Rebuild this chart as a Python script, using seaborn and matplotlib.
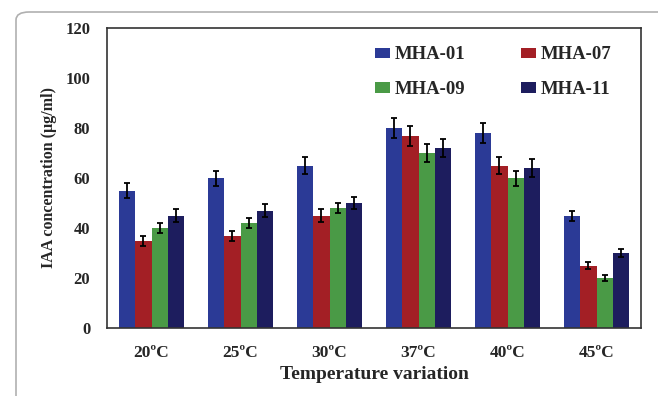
import numpy as np
import pandas as pd
import matplotlib
matplotlib.use("Agg")
import matplotlib.pyplot as plt
import seaborn as sns
from matplotlib.patches import FancyBboxPatch, Patch

temps = ["20\u00baC", "25\u00baC", "30\u00baC", "37\u00baC", "40\u00baC", "45\u00baC"]
strains = ["MHA-01", "MHA-07", "MHA-09", "MHA-11"]
mha01 = [55, 60, 65, 80, 78, 45]
mha07 = [35, 37, 45, 77, 65, 25]
mha09 = [40, 42, 48, 70, 60, 20]
mha11 = [45, 47, 50, 72, 64, 30]
err01 = [3, 3, 3.5, 4, 4, 2]
err07 = [2, 2, 2.5, 4, 3.5, 1.5]
err09 = [2, 2, 2, 3.5, 3, 1.2]
err11 = [2.5, 2.5, 2.5, 3.5, 3.5, 1.7]
colors = ["#2B3A96", "#A31F25", "#4A9A46", "#1D1D5E"]

vals = [mha01, mha07, mha09, mha11]
errs = [err01, err07, err09, err11]
df = pd.DataFrame({
    "temp": np.repeat([temps], 4, axis=0).ravel(),
    "strain": np.repeat(strains, len(temps)),
    "value": np.concatenate(vals),
    "err": np.concatenate(errs),
})

sns.set_style("white")
plt.rcParams["font.family"] = ["Liberation Serif", "DejaVu Serif"]
plt.rcParams["font.weight"] = "bold"

fig = plt.figure(figsize=(6.58, 3.96), dpi=100)
ax = fig.add_axes([107/658, 1-328/396, (641-107)/658, 300/396])

# outer rounded frame (top-left visible, rest runs off the canvas)
frame = FancyBboxPatch((16/658, -0.5), 700/658, 0.5 + 1 - 12/396,
                       boxstyle="round,pad=0,rounding_size=0.02",
                       transform=fig.transFigure, fill=False,
                       edgecolor="#b0b0b0", linewidth=1.2, zorder=0)
fig.patches.append(frame)

sns.barplot(data=df, x="temp", y="value", hue="strain", order=temps,
            hue_order=strains, palette=colors, errorbar=None, width=0.72,
            saturation=1, ax=ax, legend=False, linewidth=0)

# error bars positioned from the drawn bars
for i, s in enumerate(strains):
    cont = ax.containers[i]
    xs = [p.get_x() + p.get_width()/2 for p in cont.patches]
    ys = [p.get_height() for p in cont.patches]
    ax.errorbar(xs, ys, yerr=errs[i], fmt="none", ecolor="black",
                elinewidth=1.3, capsize=2.5, capthick=1.3, zorder=5)

ax.set_ylim(0, 120)
ax.set_xlim(-0.5, 5.5)
ax.set_yticks(range(0, 121, 20))
ax.set_xticks(np.arange(-0.5, 6, 1), minor=False)
ax.set_xticklabels([])
ax.set_xticks(np.arange(6), minor=True)
ax.set_xticklabels(temps, minor=True)
ax.tick_params(axis="x", which="minor", length=0, pad=12, labelsize=12.5)
ax.tick_params(axis="x", which="major", length=5, width=1, direction="out", color="#333333")
ax.tick_params(axis="y", length=5, width=1, direction="out", color="#333333", labelsize=12, pad=7)
for lab in ax.get_yticklabels() + ax.get_xticklabels(minor=True):
    lab.set_fontweight("bold")

for sp in ax.spines.values():
    sp.set_visible(True)
    sp.set_color("#333333")
    sp.set_linewidth(1.2)

ax.set_xlabel("Temperature variation", fontsize=14, fontweight="bold", labelpad=4)
ax.set_ylabel("IAA concentration (\u00b5g/ml)", fontsize=11.5, fontweight="bold", labelpad=6)

handles = [Patch(facecolor=c, edgecolor="none") for c in colors]
order = [0, 2, 1, 3]
leg = ax.legend([handles[k] for k in order], [strains[k] for k in order],
                ncol=2, frameon=False,
                loc="upper left", bbox_to_anchor=(0.47, 0.995),
                prop={"family": "Liberation Serif", "weight": "bold", "size": 13.5},
                handlelength=0.8, handleheight=0.45, handletextpad=0.25,
                columnspacing=3.0, labelspacing=0.95)

fig.savefig("out.png", dpi=100)
